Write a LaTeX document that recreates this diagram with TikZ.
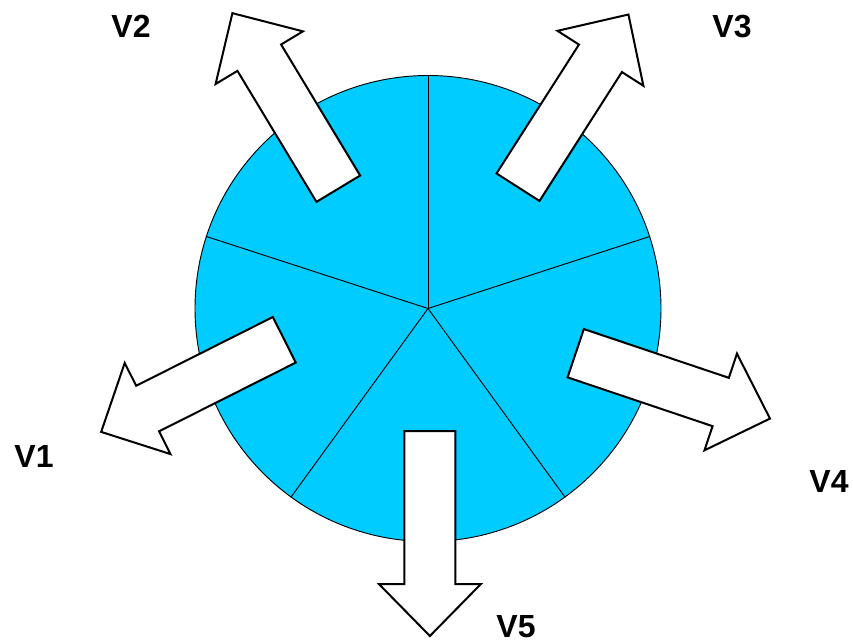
\documentclass[tikz,border=0pt]{standalone}
\usepackage{fontspec}
\setmainfont{Liberation Sans}
\definecolor{discblue}{RGB}{0,204,255}
\tikzset{
  arrowline/.style={draw=black, fill=white, line width=1.5pt, line join=miter},
  blockarrow/.pic={\path[arrowline] (0,-25.5) -- (153,-25.5) -- (153,-51) -- (205,0) -- (153,51) -- (153,25.5) -- (0,25.5) -- cycle;},
  spoke/.style={draw=black, line width=0.7pt},
  lbl/.style={font=\bfseries\fontsize{24}{28}\selectfont, inner sep=0pt, text depth=0pt}
}
\begin{document}
\begin{tikzpicture}[x=0.75pt, y=-0.75pt]
\useasboundingbox (0,0) rectangle (853,642);
\node[circle, draw=black, line width=0.7pt, fill=discblue, minimum size=349.5pt, inner sep=0pt] (c) at (428,308.5) {};
\foreach \a in {90,18,-54,-126,162} \draw[spoke] (c.center) -- (c.\a);
\pic[rotate=206.7] at (284.3,339.8) {blockarrow};
\pic[rotate=121.1] at (338.3,188.7) {blockarrow};
\pic[rotate=57.4] at (518,187.2) {blockarrow};
\pic[rotate=-18.6] at (575.7,353.2) {blockarrow};
\pic[rotate=-90] at (429.9,431) {blockarrow};
\node[lbl] (v1) at (34,456.5) {V1};
\node[lbl] (v2) at (131,26.5) {V2};
\node[lbl] (v3) at (732,26.5) {V3};
\node[lbl] (v4) at (829,481.5) {V4};
\node[lbl] (v5) at (516,626) {V5};
\end{tikzpicture}
\end{document}
